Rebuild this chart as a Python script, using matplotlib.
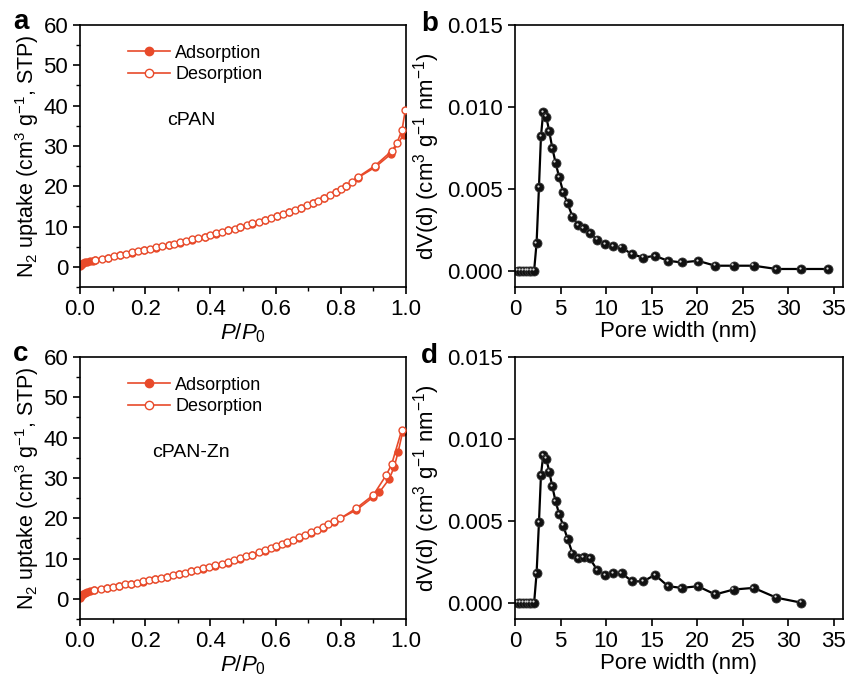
import matplotlib
matplotlib.use("Agg")
import matplotlib.pyplot as plt
from matplotlib.ticker import MultipleLocator, FormatStrFormatter
from matplotlib.transforms import offset_copy

plt.rcParams['font.family'] = ['Liberation Sans', 'DejaVu Sans']
plt.rcParams['mathtext.fontset'] = 'custom'
plt.rcParams['mathtext.rm'] = 'Liberation Sans'
plt.rcParams['mathtext.it'] = 'Liberation Sans:italic'
plt.rcParams['mathtext.bf'] = 'Liberation Sans:bold'

# --- panel a: cPAN isotherm ---
p_ads_a = [0.001, 0.003, 0.006, 0.01, 0.015, 0.02, 0.03, 0.04, 0.046, 0.085, 0.122, 0.159,
           0.196, 0.233, 0.272, 0.308, 0.345, 0.382, 0.418, 0.455, 0.492, 0.529, 0.566,
           0.603, 0.640, 0.677, 0.714, 0.749, 0.784, 0.816, 0.852, 0.905, 0.954, 0.993]
v_ads_a = [0.2, 0.5, 0.8, 1.0, 1.15, 1.3, 1.45, 1.55, 1.6, 2.25, 2.95, 3.5,
           4.1, 4.75, 5.35, 6.0, 6.75, 7.4, 8.25, 9.05, 9.9, 10.7, 11.55,
           12.55, 13.55, 14.6, 15.85, 17.1, 18.6, 20.1, 22.1, 24.7, 28.0, 32.8]
p_des_a = [0.046, 0.067, 0.085, 0.104, 0.122, 0.141, 0.159, 0.177, 0.196, 0.214, 0.233,
           0.251, 0.272, 0.288, 0.308, 0.326, 0.345, 0.363, 0.382, 0.400, 0.418, 0.437,
           0.455, 0.474, 0.492, 0.511, 0.529, 0.548, 0.566, 0.585, 0.603, 0.622, 0.640,
           0.658, 0.677, 0.695, 0.714, 0.730, 0.749, 0.767, 0.784, 0.800, 0.816, 0.834,
           0.852, 0.905, 0.957, 0.972, 0.988, 0.998]
v_des_a = [1.66, 2.0, 2.3, 2.66, 3.0, 3.2, 3.57, 3.82, 4.15, 4.48, 4.81,
           5.15, 5.39, 5.73, 6.06, 6.47, 6.8, 7.05, 7.47, 7.88, 8.3, 8.71,
           9.13, 9.46, 9.96, 10.37, 10.79, 11.2, 11.62, 12.12, 12.61, 13.11, 13.61,
           14.11, 14.69, 15.27, 15.93, 16.43, 17.18, 17.93, 18.67, 19.42, 20.17, 21.08,
           22.24, 25.1, 28.8, 30.7, 34.0, 39.0]

# --- panel c: cPAN-Zn isotherm ---
p_ads_c = [0.001, 0.003, 0.006, 0.01, 0.015, 0.02, 0.03, 0.043, 0.082, 0.119, 0.155,
           0.192, 0.231, 0.268, 0.305, 0.342, 0.378, 0.415, 0.454, 0.491, 0.528, 0.566,
           0.601, 0.636, 0.673, 0.708, 0.744, 0.779, 0.847, 0.900, 0.918, 0.949, 0.964,
           0.976, 0.990]
v_ads_c = [0.3, 0.7, 1.0, 1.3, 1.5, 1.7, 1.9, 2.1, 2.7, 3.25, 3.7,
           4.25, 4.9, 5.4, 6.05, 6.8, 7.45, 8.2, 9.0, 10.0, 10.8, 11.9,
           12.95, 13.95, 15.1, 16.35, 17.65, 19.15, 22.0, 25.3, 26.4, 29.8, 32.8,
           36.5, 41.5]
p_des_c = [0.043, 0.063, 0.082, 0.100, 0.119, 0.137, 0.155, 0.174, 0.192, 0.211, 0.231,
           0.249, 0.268, 0.286, 0.305, 0.323, 0.342, 0.360, 0.378, 0.397, 0.415, 0.436,
           0.454, 0.472, 0.491, 0.509, 0.528, 0.548, 0.566, 0.585, 0.601, 0.620, 0.636,
           0.654, 0.673, 0.689, 0.708, 0.726, 0.744, 0.761, 0.779, 0.799, 0.847, 0.900,
           0.939, 0.956, 0.987]
v_des_c = [2.15, 2.49, 2.73, 2.98, 3.31, 3.56, 3.73, 3.98, 4.31, 4.64, 4.97,
           5.14, 5.47, 5.8, 6.13, 6.46, 6.88, 7.13, 7.54, 7.87, 8.29, 8.7,
           9.11, 9.61, 10.1, 10.52, 10.94, 11.52, 12.01, 12.51, 13.09, 13.59, 14.08,
           14.66, 15.24, 15.82, 16.49, 17.15, 17.81, 18.64, 19.3, 19.97, 22.45, 25.77,
           30.65, 33.39, 41.9]

# --- panels b, d: pore size distribution ---
w_b = [0.3, 0.6, 0.9, 1.2, 1.5, 1.8, 2.1, 2.37, 2.63, 2.85, 3.1, 3.43, 3.76, 4.09, 4.45,
       4.85, 5.29, 5.77, 6.31, 6.9, 7.52, 8.21, 9.01, 9.89, 10.77, 11.7, 12.85,
       14.09, 15.36, 16.8, 18.3, 20.07, 21.97, 24.0, 26.2, 28.7, 31.4, 34.4]
dv_b = [0.0, 0.0, 0.0, 0.0, 0.0, 0.0, 0.0, 0.0017, 0.0051, 0.0082, 0.0097, 0.0094, 0.0085,
        0.0075, 0.0066, 0.0057, 0.0048, 0.0041, 0.0033, 0.0028, 0.0026, 0.0023, 0.0019,
        0.0016, 0.0015, 0.0014, 0.0010, 0.0008, 0.0009, 0.0006, 0.0005, 0.0006, 0.0003,
        0.0003, 0.0003, 0.0001, 0.0001, 0.0001]
w_d = [0.3, 0.6, 0.9, 1.2, 1.5, 1.8, 2.1, 2.37, 2.63, 2.85, 3.1, 3.43, 3.76, 4.09, 4.45,
       4.85, 5.29, 5.77, 6.31, 6.9, 7.52, 8.21, 9.01, 9.89, 10.77, 11.7, 12.85,
       14.09, 15.36, 16.8, 18.3, 20.07, 21.97, 24.0, 26.2, 28.7, 31.4]
dv_d = [0.0, 0.0, 0.0, 0.0, 0.0, 0.0, 0.0, 0.0018, 0.0049, 0.0078, 0.0090, 0.0088, 0.0080,
        0.0071, 0.0062, 0.0054, 0.0047, 0.0039, 0.0030, 0.0027, 0.0028, 0.0027, 0.0020,
        0.0017, 0.0018, 0.0018, 0.0013, 0.0013, 0.0017, 0.0010, 0.0009, 0.0010, 0.0005,
        0.0008, 0.0009, 0.0003, 0.0000]

red = '#e84a2a'
fig = plt.figure(figsize=(8.48, 6.79), dpi=100)

W, H = 848, 679
def box(l, t, r, b):
    return [l / W, 1 - b / H, (r - l) / W, (b - t) / H]

ax_a = fig.add_axes(box(80, 25, 406, 287))
ax_b = fig.add_axes(box(515, 25, 843, 287))
ax_c = fig.add_axes(box(80, 357, 406, 619))
ax_d = fig.add_axes(box(515, 357, 843, 619))

def style(ax):
    for s in ax.spines.values():
        s.set_linewidth(1.2)
    ax.tick_params(direction='out', which='major', length=5, width=1.2, labelsize=16,
                   top=False, right=False)
    ax.tick_params(direction='out', which='minor', length=3, width=1.0, top=False, right=False)

def iso(ax, pa, va, pd, vd, name):
    ax.plot(pa, va, '-o', color=red, ms=5, mew=1, lw=1.2, label='Adsorption', zorder=2)
    ax.plot(pd, vd, '-o', color=red, mfc='white', ms=5, mew=1, lw=1.2, label='Desorption', zorder=3)
    ax.set_xlim(0, 1)
    ax.set_ylim(-5, 60)
    ax.xaxis.set_major_locator(MultipleLocator(0.2))
    ax.xaxis.set_minor_locator(MultipleLocator(0.1))
    ax.xaxis.set_major_formatter(FormatStrFormatter('%.1f'))
    ax.yaxis.set_major_locator(MultipleLocator(10))
    ax.yaxis.set_minor_locator(MultipleLocator(5))
    ax.set_xlabel(r'$\mathit{P}$/$\mathit{P}_\mathrm{0}$', fontsize=16, labelpad=1)
    ax.set_ylabel(r'N$_2$ uptake (cm$^3$ g$^{-1}$, STP)', fontsize=15.5, labelpad=2)
    ax.legend(loc='upper left', bbox_to_anchor=(0.12, 0.96), frameon=False, fontsize=13,
              handlelength=2.3, handletextpad=0.3, labelspacing=0.25, borderpad=0,
              markerscale=1.2)
    ax.text(0.267 if name == 'cPAN' else 0.222, 0.634, name, transform=ax.transAxes,
            fontsize=14, va='center', ha='left')
    style(ax)

def psd(ax, w, dv):
    ax.plot(w, dv, '-o', color='black', ms=6.5, lw=1.6, mfc='#111111', mec='#333333', mew=0.6)
    hl = offset_copy(ax.transData, fig=fig, x=-0.9, y=0.9, units='points')
    ax.plot(w, dv, 'o', color='#d8d8d8', ms=1.6, mew=0, transform=hl)
    ax.set_xlim(0, 36)
    ax.set_ylim(-0.001, 0.015)
    ax.xaxis.set_major_locator(MultipleLocator(5))
    ax.yaxis.set_major_locator(MultipleLocator(0.005))
    ax.yaxis.set_major_formatter(FormatStrFormatter('%.3f'))
    ax.set_xlabel('Pore width (nm)', fontsize=16, labelpad=1)
    ax.set_ylabel(r'dV(d) (cm$^3$ g$^{-1}$ nm$^{-1}$)', fontsize=16, labelpad=4)
    style(ax)

iso(ax_a, p_ads_a, v_ads_a, p_des_a, v_des_a, 'cPAN')
iso(ax_c, p_ads_c, v_ads_c, p_des_c, v_des_c, 'cPAN-Zn')
psd(ax_b, w_b, dv_b)
psd(ax_d, w_d, dv_d)

for lab, x, y in [('a', 13, 29), ('b', 421, 31), ('c', 13, 361), ('d', 421, 363)]:
    fig.text(x / W, 1 - y / H, lab, fontsize=20, fontweight='bold', va='baseline', ha='left')

fig.savefig('out.png', dpi=100)
